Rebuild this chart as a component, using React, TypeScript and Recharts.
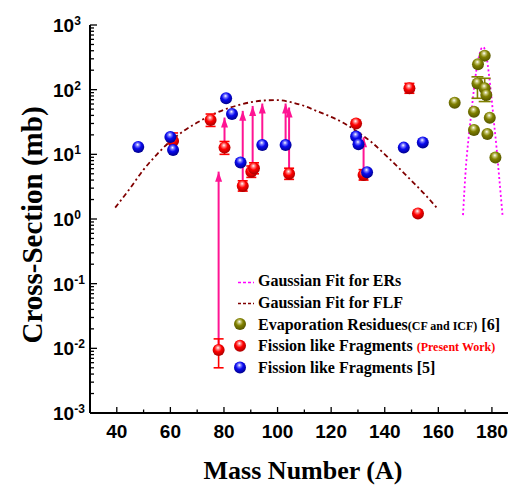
// Cross-section vs mass number: FLF (present work + ref [5]), ERs [6], Gaussian fits
import React from 'react';
import { ComposedChart, Scatter, Line, XAxis, YAxis } from 'recharts';

// Fission like fragments, present work (red)
const presentMass = [61, 75, 78, 80.2, 87, 90.2, 91.2, 104.3, 129.3, 132.1, 149.2, 152.4];
const presentCs = [16.1, 34, 0.0094, 12.7, 3.24, 5.4, 6.1, 5.0, 30, 4.8, 105, 1.22];
const presentLow = [11.7, 27, 0.005, 10, 2.7, 4.4, 5.0, 4.1, null, 4.0, 88, null];
const presentHigh = [21.4, 42, 0.014, 15.8, 3.9, 6.6, 7.4, 6.1, null, 5.8, 125, null];

// Fission like fragments, ref [5] (blue)
const refMass = [48, 60, 61, 80.8, 83, 86.2, 94.3, 103, 129.3, 130.2, 133.4, 147.1, 154.2];
const refCs = [13, 18.5, 11.7, 73.6, 42, 7.5, 13.9, 13.9, 18.8, 14.3, 5.3, 12.7, 15.3];

// Evaporation residues, ref [6] (olive)
const erMass = [166.1, 173.3, 179.2, 173.3, 178.3, 181.3, 177.3, 174.8, 174.6, 177.3, 177.9];
const erCs = [63, 45.6, 36.9, 23.8, 20.6, 8.9, 336, 247, 125, 105, 83];
const erLow = [null, null, null, null, null, null, null, null, 73.6, 65.5, null];
const erHigh = [null, null, null, null, null, null, null, null, 158, 150, null];

// upward arrows (lower limits)
const arrowMass = [78, 80.2, 87, 90.7, 94.3, 103, 104.3, 132.1];
const arrowFrom = [0.0094, 12.7, 3.24, 5.7, 13.9, 13.9, 5.0, 4.8];
const arrowTo = [5.4, 37, 47, 56, 61, 61, 53, 18.3];

// Gaussian fit for FLF
const flfFitMass = [39.4, 45, 50, 55, 60, 65, 70, 75, 80, 85, 90, 95, 100, 105, 110, 115, 120, 125, 130, 135, 140, 145, 150, 155, 160];
const flfFitCs = [1.5, 3.0, 5.8, 10, 16, 23, 31, 40, 49, 57, 64, 68, 69, 64, 56, 46, 38, 30, 22, 15.5, 10, 6.3, 3.9, 2.4, 1.4];

// Gaussian fit for ERs
const erFitMass = [169.2, 170.4, 171.3, 172.3, 173.2, 174.2, 175.2, 176.1, 176.8, 177.4, 178, 178.9, 179.8, 180.7, 181.7, 182.8, 184];
const erFitCs = [1.15, 7.3, 18, 43, 95, 200, 330, 437, 455, 410, 324, 170, 78, 33, 13, 4, 1.1];

const xTicks = [40, 50, 60, 70, 80, 90, 100, 110, 120, 130, 140, 150, 160, 170, 180];
const decades = [-3, -2, -1, 0, 1, 2, 3];
const minorSteps = [2, 3, 4, 5, 6, 7, 8, 9];

const yTicks: number[] = [];
decades.forEach((e) => {
  yTicks.push(Math.pow(10, e));
  if (e < 3) minorSteps.forEach((m) => yTicks.push(Number((m * Math.pow(10, e)).toPrecision(6))));
});

const SANS = '"Liberation Sans", Arial, sans-serif';
const SERIF = '"Liberation Serif", "Times New Roman", serif';
const PINK = '#ff1493';

const presentRows = presentMass.map((x, i) => ({ x, y: presentCs[i] }));
const refRows = refMass.map((x, i) => ({ x, y: refCs[i] }));
const erRows = erMass.map((x, i) => ({ x, y: erCs[i] }));
const flfFitRows = flfFitMass.map((x, i) => ({ x, y: flfFitCs[i] }));
const erFitRows = erFitMass.map((x, i) => ({ x, y: erFitCs[i] }));

// vertical error segments, drawn as two-point lines so they sit under the balls
function errorSegments(mass: number[], low: (number | null)[], high: (number | null)[]) {
  return mass
    .map((x, i) => (low[i] == null ? null : [{ x, y: low[i] as number }, { x, y: high[i] as number }]))
    .filter((d) => d != null) as { x: number; y: number }[][];
}
const presentErr = errorSegments(presentMass, presentLow, presentHigh);
const erErr = errorSegments(erMass, erLow, erHigh);

function isMajor(v: number) {
  const l = Math.log10(v);
  return Math.abs(l - Math.round(l)) < 1e-6;
}

function LeftTick(props: any) {
  const { x, y, payload } = props;
  const v = payload.value;
  const major = isMajor(v);
  return (
    <g>
      <line x1={x} x2={x + (major ? 7 : 4)} y1={y} y2={y} stroke="#000" strokeWidth={1.3} />
      {major && (
        <text x={x - 37} y={y + 7} fontFamily={SANS} fontWeight="bold" fontSize={19} fill="#000">
          10
          <tspan dy={-7} fontSize={12}>
            {Math.round(Math.log10(v))}
          </tspan>
        </text>
      )}
    </g>
  );
}

function BottomTick(props: any) {
  const { x, y, payload } = props;
  const major = payload.value % 20 === 0;
  return (
    <g>
      <line x1={x} x2={x} y1={y} y2={y - (major ? 6 : 3.5)} stroke="#000" strokeWidth={1.3} />
      {major && (
        <text x={x} y={y + 25} textAnchor="middle" fontFamily={SANS} fontWeight="bold" fontSize={19} fill="#000">
          {payload.value}
        </text>
      )}
    </g>
  );
}

function TopTick(props: any) {
  const { x, y, payload } = props;
  const major = payload.value % 20 === 0;
  return <line x1={x} x2={x} y1={y} y2={y + (major ? 7 : 4)} stroke="#000" strokeWidth={1.3} />;
}

function Ball({ cx, cy, grad, r = 6 }: { cx: number; cy: number; grad: string; r?: number }) {
  if (cx == null || cy == null) return null;
  return <circle cx={cx} cy={cy} r={r} fill={`url(#${grad})`} />;
}

function ArrowHead(props: any) {
  const { cx, cy, index } = props;
  if (index !== 1 || cx == null) return <g key={`a${index}`} />;
  return <polygon key={`a${index}`} points={`${cx},${cy} ${cx - 3.5},${cy + 10} ${cx + 3.5},${cy + 10}`} fill={PINK} />;
}

function Cap(props: any) {
  const { cx, cy, index, stroke, half } = props;
  if (cx == null) return <g key={`c${index}`} />;
  return <line key={`c${index}`} x1={cx - half} x2={cx + half} y1={cy} y2={cy} stroke={stroke} strokeWidth={1.6} />;
}

function BallGradients() {
  const balls = [
    { id: 'ballBlue', light: '#7a7aff', base: '#0a0af0', dark: '#00008a' },
    { id: 'ballRed', light: '#ff8080', base: '#ff0000', dark: '#a80000' },
    { id: 'ballOlive', light: '#c4c470', base: '#808000', dark: '#545400' },
  ];
  return (
    <defs>
      {balls.map((b) => (
        <radialGradient key={b.id} id={b.id} cx="0.45" cy="0.38" r="0.62" fx="0.45" fy="0.3">
          <stop offset="0%" stopColor="#ffffff" />
          <stop offset="22%" stopColor={b.light} />
          <stop offset="50%" stopColor={b.base} />
          <stop offset="100%" stopColor={b.dark} />
        </radialGradient>
      ))}
    </defs>
  );
}

function Overlay() {
  const rowX = 258;
  return (
    <svg width={508} height={485} style={{ position: 'absolute', left: 0, top: 0, pointerEvents: 'none' }}>
      <BallGradients />
      <text x={303} y={479} textAnchor="middle" fontFamily={SERIF} fontWeight="bold" fontSize={26} fill="#000">
        Mass Number (A)
      </text>
      <text transform="translate(42,225) rotate(-90)" textAnchor="middle" fontFamily={SERIF} fontWeight="bold" fontSize={29} fill="#000">
        Cross-Section (mb)
      </text>

      {/* legend */}
      <line x1={238} x2={254} y1={282.5} y2={282.5} stroke="#ff00ff" strokeWidth={1.6} strokeDasharray="3 2" />
      <text x={rowX} y={286} fontFamily={SERIF} fontWeight="bold" fontSize={16} fill="#000">
        Gaussian Fit for ERs
      </text>
      <line x1={238} x2={254} y1={303.5} y2={303.5} stroke="#800000" strokeWidth={1.6} strokeDasharray="3 2" />
      <text x={rowX} y={307.7} fontFamily={SERIF} fontWeight="bold" fontSize={16} fill="#000">
        Gaussian Fit for FLF
      </text>
      <Ball cx={240} cy={324} grad="ballOlive" />
      <text x={rowX} y={330} fontFamily={SERIF} fontWeight="bold" fontSize={16} fill="#000">
        Evaporation Residues<tspan fontSize={12}>(CF and ICF)</tspan> [6]
      </text>
      <Ball cx={240} cy={345.7} grad="ballRed" />
      <text x={rowX} y={350.7} fontFamily={SERIF} fontWeight="bold" fontSize={16} fill="#000">
        Fission like Fragments <tspan fontSize={12} fill="#ff0000">(Present Work)</tspan>
      </text>
      <Ball cx={240} cy={367.5} grad="ballBlue" />
      <text x={rowX} y={372.7} fontFamily={SERIF} fontWeight="bold" fontSize={16} fill="#000">
        Fission like Fragments [5]
      </text>
    </svg>
  );
}

export default function App() {
  const axisLine = { stroke: '#000', strokeWidth: 2 };
  return (
    <div style={{ position: 'absolute', left: 0, top: 0, width: 508, height: 485, background: '#fff' }}>
      <ComposedChart width={508} height={485} margin={{ top: 25, right: 0, bottom: 0, left: 0 }}>
        <XAxis
          xAxisId="top"
          orientation="top"
          type="number"
          dataKey="x"
          domain={[30, 186]}
          allowDataOverflow
          ticks={xTicks}
          interval={0}
          tick={(p: any) => <TopTick {...p} />}
          tickLine={false}
          tickSize={0}
          tickMargin={0}
          height={0}
          axisLine={axisLine}
        />
        <XAxis
          type="number"
          dataKey="x"
          domain={[30, 186]}
          allowDataOverflow
          ticks={xTicks}
          interval={0}
          tick={(p: any) => <BottomTick {...p} />}
          tickLine={false}
          tickSize={0}
          tickMargin={0}
          height={72}
          axisLine={axisLine}
        />
        <YAxis
          type="number"
          dataKey="y"
          scale="log"
          domain={[0.001, 1000]}
          allowDataOverflow
          ticks={yTicks}
          interval={0}
          tick={(p: any) => <LeftTick {...p} />}
          tickLine={false}
          tickSize={0}
          tickMargin={0}
          width={90}
          axisLine={axisLine}
        />

        <Line
          data={flfFitRows}
          dataKey="y"
          type="monotone"
          stroke="#800000"
          strokeWidth={1.8}
          strokeDasharray="5 3 2 3"
          dot={false}
          activeDot={false}
          isAnimationActive={false}
        />
        <Line
          data={erFitRows}
          dataKey="y"
          type="monotone"
          stroke="#ff00ff"
          strokeWidth={1.8}
          strokeDasharray="2 2.5"
          dot={false}
          activeDot={false}
          isAnimationActive={false}
        />
        {arrowMass.map((m, i) => (
          <Line
            key={`arrow-${i}`}
            data={[
              { x: m, y: arrowFrom[i] },
              { x: m, y: arrowTo[i] },
            ]}
            dataKey="y"
            type="linear"
            stroke={PINK}
            strokeWidth={2}
            dot={(p: any) => <ArrowHead {...p} />}
            activeDot={false}
            isAnimationActive={false}
          />
        ))}
        {presentErr.map((seg, i) => (
          <Line
            key={`perr-${i}`}
            data={seg}
            dataKey="y"
            type="linear"
            stroke="#ff0000"
            strokeWidth={1.6}
            dot={(p: any) => <Cap {...p} stroke="#ff0000" half={5} />}
            activeDot={false}
            isAnimationActive={false}
          />
        ))}
        {erErr.map((seg, i) => (
          <Line
            key={`eerr-${i}`}
            data={seg}
            dataKey="y"
            type="linear"
            stroke="#808000"
            strokeWidth={1.6}
            dot={(p: any) => <Cap {...p} stroke="#808000" half={6} />}
            activeDot={false}
            isAnimationActive={false}
          />
        ))}

        <Scatter data={erRows} isAnimationActive={false} shape={(p: any) => <Ball cx={p.cx} cy={p.cy} grad="ballOlive" />} />
        <Scatter data={presentRows} isAnimationActive={false} shape={(p: any) => <Ball cx={p.cx} cy={p.cy} grad="ballRed" />} />
        <Scatter data={refRows} isAnimationActive={false} shape={(p: any) => <Ball cx={p.cx} cy={p.cy} grad="ballBlue" />} />
      </ComposedChart>
      <Overlay />
    </div>
  );
}
